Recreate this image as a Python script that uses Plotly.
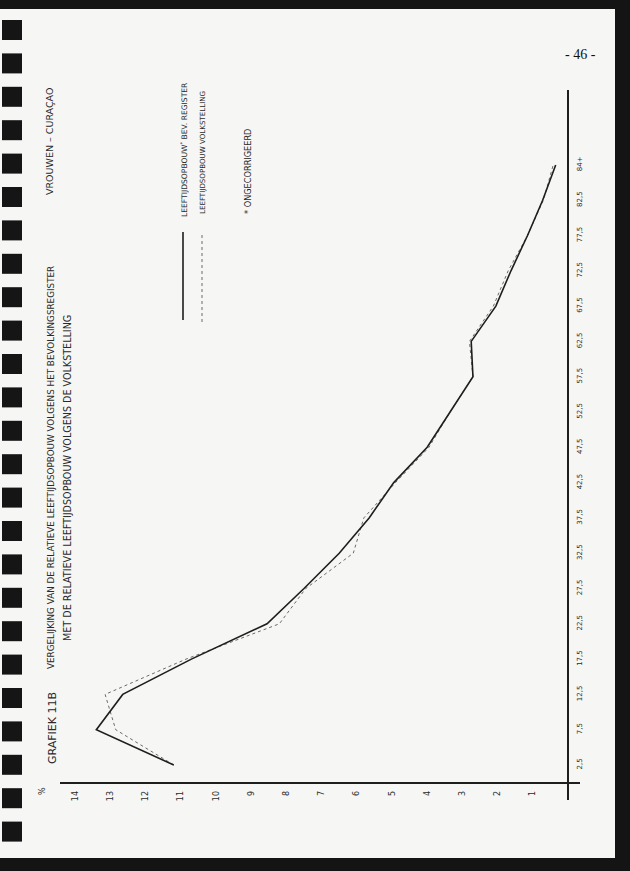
import plotly.graph_objects as go

# ---------------- data ----------------
age_groups = ["2,5", "7,5", "12,5", "17,5", "22,5", "27,5", "32,5", "37,5", "42,5",
              "47,5", "52,5", "57,5", "62,5", "67,5", "72,5", "77,5", "82,5", "84+"]
register_pct = [11.2, 13.4, 12.65, 10.7, 8.55, 7.5, 6.5, 5.65, 4.95,
                4.0, 3.35, 2.7, 2.75, 2.05, 1.62, 1.15, 0.72, 0.35]
census_pct = [11.2, 12.85, 13.15, 10.85, 8.2, 7.45, 6.1, 5.8, 4.9,
              3.95, 3.35, 2.7, 2.8, 2.12, 1.7, 1.15, 0.7, 0.42]
pct_ticks = list(range(1, 15))
pct_labels = [str(v) for v in pct_ticks]

W, H = 630, 871
def X(p): return p / W
def Y(p): return 1 - p / H

HAND = "DejaVu Sans, Verdana, sans-serif"
INK = "#2a2a2a"

fig = go.Figure()
fig.add_trace(go.Scatter(x=census_pct, y=age_groups, mode="lines",
                         line=dict(color="#6a6a6a", width=1, dash="dot"),
                         name="census", showlegend=False))
fig.add_trace(go.Scatter(x=register_pct, y=age_groups, mode="lines",
                         line=dict(color="#1e1e1e", width=1.6),
                         name="register", showlegend=False))

shapes = []
# page
shapes.append(dict(type="rect", xref="paper", yref="paper", x0=X(0), x1=X(615),
                   y0=Y(858), y1=Y(9), fillcolor="#f6f6f4", line=dict(width=0), layer="below"))
# spiral binding
for k in range(25):
    c = 30 + 33.4 * k
    shapes.append(dict(type="rect", xref="paper", yref="paper", x0=X(2), x1=X(22),
                       y0=Y(c + 10), y1=Y(c - 10), fillcolor="#151515",
                       line=dict(width=0), layer="below"))
# legend line samples
shapes.append(dict(type="line", xref="paper", yref="paper", x0=X(183), x1=X(183),
                   y0=Y(320), y1=Y(232), line=dict(color="#1e1e1e", width=1.6)))
shapes.append(dict(type="line", xref="paper", yref="paper", x0=X(202), x1=X(202),
                   y0=Y(322), y1=Y(232), line=dict(color="#6a6a6a", width=1, dash="dot")))

def txt(s, px, py, size=8, angle=-90, font=HAND, color=INK):
    return dict(text=s, xref="paper", yref="paper", x=X(px), y=Y(py), showarrow=False,
                textangle=angle, xanchor="center", yanchor="middle",
                font=dict(family=font, size=size, color=color))

annotations = [
    txt("%", 42, 791, 8),
    txt("GRAFIEK 11B", 52, 728, 11),
    txt("VERGELIJKING VAN DE RELATIEVE LEEFTIJDSOPBOUW VOLGENS HET BEVOLKINGSREGISTER", 51, 468, 8.8),
    txt("MET DE RELATIEVE LEEFTIJDSOPBOUW VOLGENS DE VOLKSTELLING", 67, 478, 9.6),
    txt("VROUWEN – CURAÇAO", 50, 142, 9.5),
    txt("LEEFTIJDSOPBOUW<sup>*</sup> BEV. REGISTER", 184, 150, 7.6),
    txt("LEEFTIJDSOPBOUW VOLKSTELLING", 202, 153, 7.1),
    txt("* ONGECORRIGEERD", 248, 172, 8.2),
    txt("- 46 -", 580, 55, 14, angle=0, font="Liberation Serif, serif", color="#111"),
]

fig.update_layout(
    width=W, height=H, margin=dict(l=0, r=0, t=0, b=0),
    paper_bgcolor="#141414", plot_bgcolor="rgba(0,0,0,0)",
    shapes=shapes, annotations=annotations, showlegend=False,
    xaxis=dict(domain=[X(60), X(580)], range=[14.432, -0.341], anchor="free",
               position=Y(783), showline=True, linecolor="#1e1e1e", linewidth=1.5,
               ticks="", tickvals=pct_ticks, ticktext=pct_labels, tickangle=-90,
               ticklabelstandoff=4, showgrid=False, zeroline=False,
               tickfont=dict(family=HAND, size=8, color=INK)),
    yaxis=dict(domain=[Y(800), Y(90)], range=[-0.9915, 19.122], anchor="free",
               position=X(568), side="right", type="category",
               categoryorder="array", categoryarray=age_groups,
               showline=True, linecolor="#1e1e1e", linewidth=1.5,
               ticks="", tickangle=-90, ticklabelstandoff=5, showgrid=False,
               zeroline=False, tickfont=dict(family=HAND, size=7, color=INK)),
)

fig.write_html("out.html", config={"displayModeBar": False},
               post_script="document.body.style.margin='0';document.body.style.overflow='hidden';")
